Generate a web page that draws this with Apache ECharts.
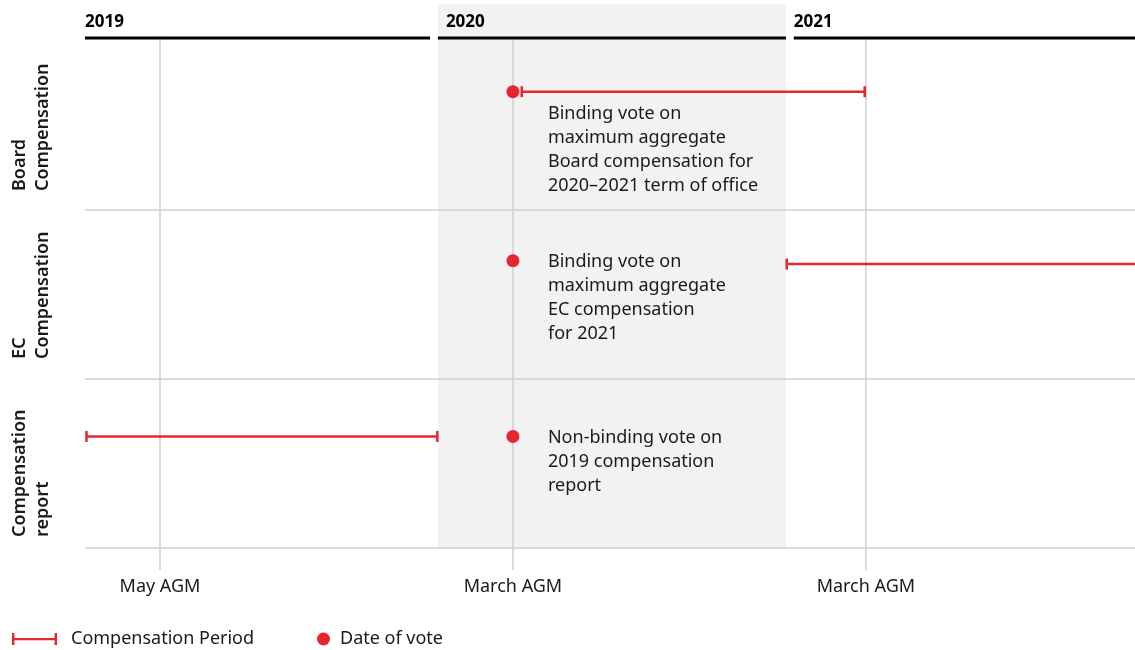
<!DOCTYPE html>
<html><head><meta charset="utf-8">
<script src="https://cdn.jsdelivr.net/npm/echarts@6/dist/echarts.min.js"></script>
<style>html,body{margin:0;padding:0;background:#fff}#c{width:1135px;height:650px}</style>
</head><body><div id="c"></div>
<script>
// ---- data (x in months from Jan 2019, y in row units) ----
const years = ['2019', '2020', '2021'];
const yearStart = [0, 12, 24.1];
const yearEnd = [11.73, 23.83, 35.7];
const yearLabelX = [0, 12.27, 24.1];
const highlightYear = [12, 23.83];
const agmLabels = ['May AGM', 'March AGM', 'March AGM'];
const agmX = [2.55, 14.55, 26.55];
const rowNames = ['Board\nCompensation', 'EC\nCompensation', 'Compensation\nreport'];
const rowLabelY = [0.888, 1.882, 2.935];
const rowEdges = [1, 2, 3];
const voteX = [14.55, 14.55, 14.55];
const voteY = [0.3, 1.3, 2.34];
const periodStart = [14.85, 23.86, 0.05];
const periodEnd = [26.51, 35.8, 11.98];
const periodY = [0.3, 1.32, 2.34];
const voteNotes = [
  'Binding vote on\nmaximum aggregate\nBoard compensation for\n2020\u20132021 term of office',
  'Binding vote on\nmaximum aggregate\nEC compensation\nfor 2021',
  'Non-binding vote on\n2019 compensation\nreport'
];
const noteX = [15.74, 15.74, 15.74];
const noteY = [0.361, 1.237, 2.278];
const xMin = 0, xMax = 35.7, yMin = -0.219, yMax = 3;

const RED = '#e4262f';
const GRID = '#cfcfcf';
const TXT = '#1a1a1a';
const FONT = 'Noto Sans';

const chart = echarts.init(document.getElementById('c'));
chart.setOption({
  animation: false,
  backgroundColor: '#fff',
  grid: { left: 85, right: 0, top: 4, bottom: 102 },
  xAxis: { type: 'value', min: xMin, max: xMax, show: false },
  yAxis: { type: 'value', min: yMin, max: yMax, inverse: true, show: false },
  legend: [
    { left: 12, top: 630, padding: 0, selectedMode: false, itemWidth: 45, itemHeight: 12,
      data: [{ name: 'Compensation Period', icon: 'path://M0,0h2.4v12h-2.4zM2.4,4.9h40.2v2.4h-40.2zM42.6,0h2.4v12h-2.4z' }],
      textStyle: { fontFamily: FONT, fontSize: 18, color: TXT, padding: [0, 0, 0, 9] } },
    { left: 317, top: 630, padding: 0, selectedMode: false, itemWidth: 13, itemHeight: 13,
      data: [{ name: 'Date of vote', icon: 'circle' }],
      textStyle: { fontFamily: FONT, fontSize: 18, color: TXT, padding: [0, 0, 0, 5] } }
  ],
  series: [
    { // shaded 2020 band
      type: 'custom', name: 'band', silent: true, z: 0, clip: false,
      encode: { x: [0, 1] },
      data: [[highlightYear[0], highlightYear[1]]],
      renderItem: function (params, api) {
        const a = api.coord([api.value(0), yMin]);
        const b = api.coord([api.value(1), yMax]);
        return { type: 'rect', shape: { x: a[0], y: a[1], width: b[0] - a[0], height: b[1] - a[1] },
          style: { fill: '#f2f2f2' } };
      }
    },
    { // row separators
      type: 'custom', name: 'rows', silent: true, z: 1, clip: false,
      encode: { x: [0, 1], y: 2 },
      data: rowEdges.map(v => [xMin, xMax, v]),
      renderItem: function (params, api) {
        const a = api.coord([api.value(0), api.value(2)]);
        const b = api.coord([api.value(1), api.value(2)]);
        return { type: 'line', shape: { x1: a[0], y1: a[1], x2: b[0], y2: b[1] },
          style: { stroke: GRID, lineWidth: 1.5 } };
      }
    },
    { // AGM vertical lines + labels
      type: 'custom', name: 'agm', silent: true, z: 1, clip: false,
      encode: { x: 0, y: 1 },
      data: agmX.map(x => [x, 0]),
      renderItem: function (params, api) {
        const t = api.coord([api.value(0), 0]);
        const b = api.coord([api.value(0), yMax]);
        return { type: 'group', children: [
          { type: 'line', shape: { x1: t[0], y1: t[1] - 3, x2: b[0], y2: b[1] + 22 },
            style: { stroke: GRID, lineWidth: 1.5 } },
          { type: 'text', x: b[0], y: b[1] + 39,
            style: { text: agmLabels[params.dataIndex], fill: TXT, fontFamily: FONT, fontSize: 18,
              align: 'center', verticalAlign: 'middle' } }
        ] };
      }
    },
    { // year headers
      type: 'custom', name: 'years', silent: true, z: 2, clip: false,
      encode: { x: [0, 1, 2] },
      data: years.map((y, i) => [yearStart[i], yearEnd[i], yearLabelX[i]]),
      renderItem: function (params, api) {
        const a = api.coord([api.value(0), 0]);
        const b = api.coord([api.value(1), 0]);
        const c = api.coord([api.value(2), 0]);
        return { type: 'group', children: [
          { type: 'line', shape: { x1: a[0], y1: a[1] - 3, x2: b[0], y2: b[1] - 3 },
            style: { stroke: '#000', lineWidth: 3 } },
          { type: 'text', x: c[0], y: a[1] - 19,
            style: { text: years[params.dataIndex], fill: '#000', fontFamily: FONT, fontSize: 17,
              fontWeight: 'bold', align: 'left', verticalAlign: 'middle' } }
        ] };
      }
    },
    { // row labels
      type: 'custom', name: 'rowLabels', silent: true, z: 2, clip: false,
      encode: { x: 0, y: 1 },
      data: rowLabelY.map(v => [xMin, v]),
      renderItem: function (params, api) {
        const p = api.coord([xMin, api.value(1)]);
        return { type: 'text', x: p[0] - 54, y: p[1], rotation: Math.PI / 2,
          style: { text: rowNames[params.dataIndex], fill: TXT, fontFamily: FONT, fontSize: 18,
            fontWeight: 600, align: 'left', verticalAlign: 'middle', lineHeight: 23 } };
      }
    },
    { // vote notes
      type: 'custom', name: 'notes', silent: true, z: 2, clip: false,
      encode: { x: 0, y: 1 },
      data: noteX.map((x, i) => [x, noteY[i]]),
      renderItem: function (params, api) {
        const p = api.coord([api.value(0), api.value(1)]);
        return { type: 'text', x: p[0], y: p[1],
          style: { text: voteNotes[params.dataIndex], fill: TXT, fontFamily: FONT, fontSize: 18,
            align: 'left', verticalAlign: 'top', lineHeight: 24 } };
      }
    },
    { // compensation periods
      type: 'custom', name: 'Compensation Period', silent: true, z: 3, clip: false,
      itemStyle: { color: RED },
      encode: { x: [0, 1], y: 2 },
      data: periodStart.map((s, i) => [s, periodEnd[i], periodY[i]]),
      renderItem: function (params, api) {
        const a = api.coord([api.value(0), api.value(2)]);
        const b = api.coord([api.value(1), api.value(2)]);
        const st = { stroke: RED, lineWidth: 2.5 };
        return { type: 'group', children: [
          { type: 'line', shape: { x1: a[0], y1: a[1], x2: b[0], y2: b[1] }, style: st },
          { type: 'line', shape: { x1: a[0], y1: a[1] - 5.5, x2: a[0], y2: a[1] + 5.5 }, style: st },
          { type: 'line', shape: { x1: b[0], y1: b[1] - 5.5, x2: b[0], y2: b[1] + 5.5 }, style: st }
        ] };
      }
    },
    { // vote dates
      type: 'scatter', name: 'Date of vote', silent: true, z: 4,
      symbol: 'circle', symbolSize: 13,
      itemStyle: { color: RED, opacity: 1 },
      data: voteX.map((x, i) => [x, voteY[i]])
    }
  ]
});
</script>
</body></html>
